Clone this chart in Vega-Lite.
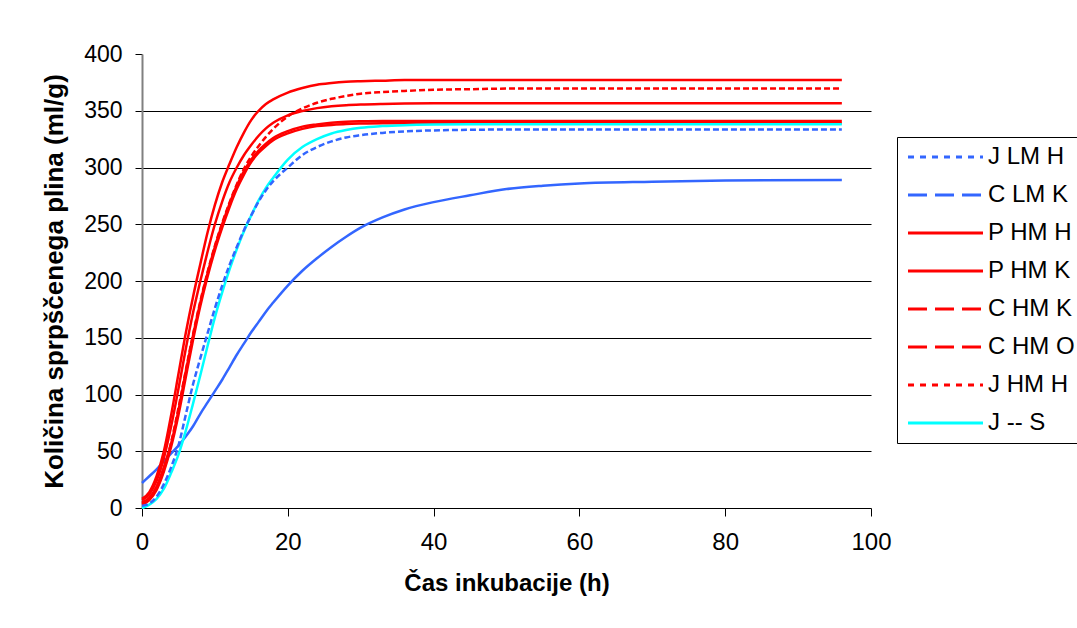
{
  "$schema": "https://vega.github.io/schema/vega-lite/v6.json",
  "width": 729,
  "height": 454,
  "autosize": "none",
  "padding": {"left": 142, "top": 54, "right": 206, "bottom": 120},
  "background": "white",
  "config": {
    "font": "Liberation Sans",
    "view": {"stroke": null},
    "axis": {"labelFont": "Liberation Sans", "titleFont": "Liberation Sans", "labelColor": "black", "titleColor": "black"}
  },
  "data": {
    "values": [
      {"t": 0, "J LM H": 2, "C LM K": 22, "P HM H": 5, "P HM K": 3, "C HM K": 8, "C HM O": 7, "J HM H": 4, "J -- S": 0},
      {"t": 1, "J LM H": 4, "C LM K": 28, "P HM H": 9, "P HM K": 7, "C HM K": 14, "C HM O": 12, "J HM H": 8, "J -- S": 3},
      {"t": 2, "J LM H": 10, "C LM K": 34, "P HM H": 19, "P HM K": 16, "C HM K": 28, "C HM O": 24, "J HM H": 17, "J -- S": 8},
      {"t": 3, "J LM H": 21, "C LM K": 41, "P HM H": 36, "P HM K": 32, "C HM K": 50, "C HM O": 44, "J HM H": 34, "J -- S": 17},
      {"t": 4, "J LM H": 36, "C LM K": 48, "P HM H": 57, "P HM K": 54, "C HM K": 82, "C HM O": 72, "J HM H": 58, "J -- S": 31},
      {"t": 5, "J LM H": 55, "C LM K": 55, "P HM H": 86, "P HM K": 82, "C HM K": 118, "C HM O": 105, "J HM H": 88, "J -- S": 47},
      {"t": 6, "J LM H": 82, "C LM K": 63, "P HM H": 120, "P HM K": 115, "C HM K": 154, "C HM O": 140, "J HM H": 121, "J -- S": 68},
      {"t": 7, "J LM H": 109, "C LM K": 72, "P HM H": 152, "P HM K": 148, "C HM K": 186, "C HM O": 172, "J HM H": 153, "J -- S": 92},
      {"t": 8, "J LM H": 132, "C LM K": 83, "P HM H": 181, "P HM K": 178, "C HM K": 215, "C HM O": 200, "J HM H": 182, "J -- S": 117},
      {"t": 9, "J LM H": 154, "C LM K": 93, "P HM H": 207, "P HM K": 204, "C HM K": 243, "C HM O": 226, "J HM H": 208, "J -- S": 143},
      {"t": 10, "J LM H": 176, "C LM K": 103, "P HM H": 230, "P HM K": 227, "C HM K": 267, "C HM O": 250, "J HM H": 231, "J -- S": 168},
      {"t": 11, "J LM H": 196, "C LM K": 113, "P HM H": 250, "P HM K": 247, "C HM K": 287, "C HM O": 270, "J HM H": 251, "J -- S": 190},
      {"t": 12, "J LM H": 214, "C LM K": 124, "P HM H": 268, "P HM K": 265, "C HM K": 303, "C HM O": 287, "J HM H": 269, "J -- S": 210},
      {"t": 13, "J LM H": 230, "C LM K": 135, "P HM H": 284, "P HM K": 281, "C HM K": 318, "C HM O": 300, "J HM H": 285, "J -- S": 228},
      {"t": 14, "J LM H": 245, "C LM K": 145, "P HM H": 297, "P HM K": 294, "C HM K": 331, "C HM O": 311, "J HM H": 299, "J -- S": 244},
      {"t": 15, "J LM H": 258, "C LM K": 155, "P HM H": 307, "P HM K": 305, "C HM K": 342, "C HM O": 320, "J HM H": 310, "J -- S": 258},
      {"t": 16, "J LM H": 270, "C LM K": 164, "P HM H": 315, "P HM K": 313, "C HM K": 350, "C HM O": 328, "J HM H": 319, "J -- S": 271},
      {"t": 17, "J LM H": 280, "C LM K": 173, "P HM H": 321, "P HM K": 319, "C HM K": 356, "C HM O": 334.5, "J HM H": 327, "J -- S": 282},
      {"t": 18, "J LM H": 288, "C LM K": 181, "P HM H": 326, "P HM K": 324, "C HM K": 360, "C HM O": 339.5, "J HM H": 334, "J -- S": 291},
      {"t": 20, "J LM H": 300, "C LM K": 196, "P HM H": 332, "P HM K": 330, "C HM K": 366, "C HM O": 346, "J HM H": 345, "J -- S": 307},
      {"t": 22, "J LM H": 311, "C LM K": 209, "P HM H": 336, "P HM K": 334, "C HM K": 370, "C HM O": 349.8, "J HM H": 352, "J -- S": 318},
      {"t": 24, "J LM H": 318, "C LM K": 220, "P HM H": 338, "P HM K": 336.5, "C HM K": 373, "C HM O": 352.3, "J HM H": 357, "J -- S": 325},
      {"t": 26, "J LM H": 323, "C LM K": 230, "P HM H": 339.5, "P HM K": 337.5, "C HM K": 374.5, "C HM O": 353.9, "J HM H": 360.5, "J -- S": 330},
      {"t": 28, "J LM H": 326.5, "C LM K": 239, "P HM H": 340.3, "P HM K": 338.3, "C HM K": 375.5, "C HM O": 354.9, "J HM H": 363, "J -- S": 333},
      {"t": 30, "J LM H": 328.5, "C LM K": 247, "P HM H": 340.7, "P HM K": 338.7, "C HM K": 376, "C HM O": 355.5, "J HM H": 365, "J -- S": 335},
      {"t": 33, "J LM H": 330.5, "C LM K": 256, "P HM H": 341, "P HM K": 339, "C HM K": 376.5, "C HM O": 356, "J HM H": 366.5, "J -- S": 336.5},
      {"t": 36, "J LM H": 331.8, "C LM K": 263, "P HM H": 341, "P HM K": 339, "C HM K": 377, "C HM O": 356.3, "J HM H": 367.5, "J -- S": 337.3},
      {"t": 40, "J LM H": 332.7, "C LM K": 269.5, "P HM H": 341, "P HM K": 339, "C HM K": 377, "C HM O": 356.5, "J HM H": 368.5, "J -- S": 337.8},
      {"t": 45, "J LM H": 333.2, "C LM K": 275.5, "P HM H": 341, "P HM K": 339, "C HM K": 377, "C HM O": 356.5, "J HM H": 369, "J -- S": 338},
      {"t": 50, "J LM H": 333.5, "C LM K": 281, "P HM H": 341, "P HM K": 339, "C HM K": 377, "C HM O": 356.5, "J HM H": 369.5, "J -- S": 338},
      {"t": 55, "J LM H": 333.5, "C LM K": 284, "P HM H": 341, "P HM K": 339, "C HM K": 377, "C HM O": 356.5, "J HM H": 369.5, "J -- S": 338},
      {"t": 60, "J LM H": 333.5, "C LM K": 286, "P HM H": 341, "P HM K": 339, "C HM K": 377, "C HM O": 356.5, "J HM H": 369.5, "J -- S": 338},
      {"t": 70, "J LM H": 333.5, "C LM K": 287.5, "P HM H": 341, "P HM K": 339, "C HM K": 377, "C HM O": 356.5, "J HM H": 369.5, "J -- S": 338},
      {"t": 80, "J LM H": 333.5, "C LM K": 288.5, "P HM H": 341, "P HM K": 339, "C HM K": 377, "C HM O": 356.5, "J HM H": 369.5, "J -- S": 338},
      {"t": 96, "J LM H": 333.5, "C LM K": 289, "P HM H": 341, "P HM K": 339, "C HM K": 377, "C HM O": 356.5, "J HM H": 369.5, "J -- S": 338}
    ]
  },
  "transform": [
    {"fold": ["J LM H", "C LM K", "P HM H", "P HM K", "C HM K", "C HM O", "J HM H", "J -- S"], "as": ["series", "v"]}
  ],
  "encoding": {
    "x": {
      "field": "t", "type": "quantitative",
      "scale": {"domain": [0, 100], "nice": false},
      "axis": {
        "title": "Čas inkubacije (h)", "values": [0, 20, 40, 60, 80, 100], "grid": false,
        "domainColor": "black", "tickColor": "black", "tickSize": 8,
        "labelFontSize": 24, "labelPadding": 14, "labelFlush": false,
        "titleFontSize": 24, "titleFontWeight": "bold", "titlePadding": 17
      }
    },
    "y": {
      "field": "v", "type": "quantitative",
      "scale": {"domain": [0, 400], "nice": false},
      "axis": {
        "title": "Količina sprpščenega plina (ml/g)", "values": [0, 50, 100, 150, 200, 250, 300, 350, 400],
        "grid": true, "gridColor": "black", "gridWidth": 1,
        "gridOpacity": {"condition": {"test": "datum.value === 400 || datum.value === 0", "value": 0}, "value": 1},
        "domainColor": "#808080", "domainWidth": 2, "tickColor": "black", "tickSize": 7,
        "labelFontSize": 23, "labelPadding": 13,
        "titleFontSize": 26, "titleFontWeight": "bold", "titlePadding": 16
      }
    },
    "color": {
      "field": "series", "type": "nominal",
      "scale": {
        "domain": ["J LM H", "C LM K", "P HM H", "P HM K", "C HM K", "C HM O", "J HM H", "J -- S"],
        "range": ["#3366FF", "#3366FF", "#FF0000", "#FF0000", "#FF0000", "#FF0000", "#FF0000", "#00FFFF"]
      },
      "legend": {
        "orient": "none", "legendX": 755, "legendY": 83, "title": null,
        "strokeColor": "black", "fillColor": "white", "padding": 8,
        "symbolType": "M-1,0H6.5", "symbolSize": 400, "symbolStrokeWidth": 3, "symbolOffset": 1,
        "labelFontSize": 24, "labelColor": "black", "labelOffset": 58, "rowPadding": 14,
        "encode": {
          "symbols": {
            "update": {
              "strokeDash": {"signal": "indexof(['C LM K','C HM K','C HM O'], datum.value) >= 0 ? [19,8] : (indexof(['J LM H','J HM H'], datum.value) >= 0 ? [6,6] : [1,0])"}
            }
          }
        }
      }
    }
  },
  "layer": [
    {
      "transform": [{"filter": {"field": "series", "oneOf": ["C LM K", "P HM H", "P HM K", "C HM K", "C HM O", "J -- S"]}}],
      "mark": {"type": "line", "strokeWidth": 2.5, "interpolate": "monotone"}
    },
    {
      "transform": [{"filter": {"field": "series", "oneOf": ["J LM H", "J HM H"]}}],
      "mark": {"type": "line", "strokeWidth": 2.5, "interpolate": "monotone", "strokeDash": [6, 3]}
    }
  ]
}
